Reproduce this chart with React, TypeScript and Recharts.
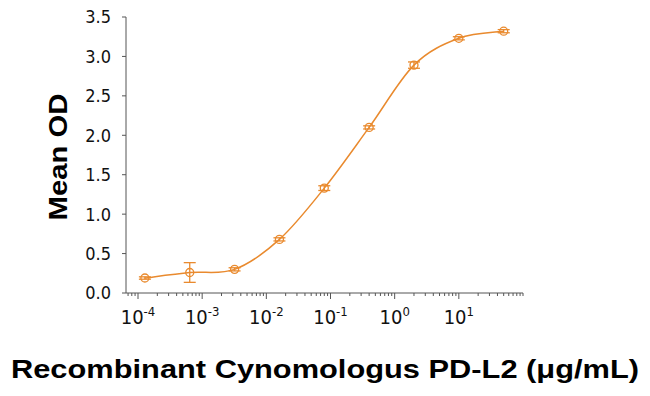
import React from "react"
import { LineChart, Line, XAxis, YAxis, ErrorBar, Label } from "recharts"

document.body.style.margin = "0"

const concentrations = [0.000128, 0.00064, 0.0032, 0.016, 0.08, 0.4, 2, 10, 50]
const meanOD = [0.19, 0.26, 0.3, 0.68, 1.33, 2.1, 2.89, 3.23, 3.32]
const errorOD = [0.015, 0.125, 0.02, 0.02, 0.03, 0.02, 0.04, 0.02, 0.02]

const yTicks = [0, 0.5, 1, 1.5, 2, 2.5, 3, 3.5]
const decades = [-5, -4, -3, -2, -1, 0, 1]
const majorExps = [-4, -3, -2, -1, 0, 1]

const X_MIN = 6.5e-5
const X_MAX = 100
const xTicks = decades
  .flatMap((e) => [1, 2, 3, 4, 5, 6, 7, 8, 9].map((m) => m * Math.pow(10, e)))
  .concat([X_MAX])
  .filter((v) => v >= X_MIN && v <= X_MAX)

const ORANGE = "#e98a2e"
const AXIS = "#555555"
const TICK_FONT = "'Liberation Sans Narrow', 'DejaVu Sans Condensed', sans-serif"
const TITLE_FONT = "'Liberation Sans', Arial, sans-serif"

const data = concentrations.map((c, i) => ({ conc: c, od: meanOD[i], err: errorOD[i] }))

// catmull-rom style curve, smoother than monotone around the flat tail
function smoothCurve(context: any) {
  let pts: number[][] = []
  return {
    areaStart() {},
    areaEnd() {},
    lineStart() {
      pts = []
    },
    lineEnd() {
      if (!pts.length) return
      context.moveTo(pts[0][0], pts[0][1])
      const k = 1 / 6
      for (let i = 0; i < pts.length - 1; i++) {
        const p0 = pts[i - 1] || pts[i]
        const p1 = pts[i]
        const p2 = pts[i + 1]
        const p3 = pts[i + 2] || p2
        context.bezierCurveTo(
          p1[0] + (p2[0] - p0[0]) * k,
          p1[1] + (p2[1] - p0[1]) * k,
          p2[0] - (p3[0] - p1[0]) * k,
          p2[1] - (p3[1] - p1[1]) * k,
          p2[0],
          p2[1]
        )
      }
    },
    point(x: number, y: number) {
      pts.push([+x, +y])
    },
  }
}

function LogTick(props: any) {
  const { x, y, payload } = props
  const v = payload.value
  const exp = Math.round(Math.log10(v))
  const isMajor = Math.abs(v - Math.pow(10, exp)) < 1e-9 * Math.pow(10, exp) && majorExps.includes(exp)
  return (
    <g>
      <line x1={x} x2={x} y1={y} y2={y + (isMajor ? 6 : 3)} stroke={AXIS} strokeWidth={1} />
      {isMajor && (
        <text x={x} y={y + 31} textAnchor="middle" fontFamily={TICK_FONT} fontSize={20} fill="#111">
          <tspan>10</tspan>
          <tspan dy={-8} fontSize={13}>{exp}</tspan>
        </text>
      )}
    </g>
  )
}

function Dot(props: any) {
  const { cx, cy } = props
  if (cx == null || cy == null) return null
  return <circle cx={cx} cy={cy} r={4} fill="none" stroke={ORANGE} strokeWidth={1.3} />
}

const XTitle = () => (
  <text
    x={325}
    y={378}
    textAnchor="middle"
    fontFamily={TITLE_FONT}
    fontWeight="bold"
    fontSize={26}
    fill="#000"
    textLength={628}
    lengthAdjust="spacingAndGlyphs"
  >
    Recombinant Cynomologus PD-L2 (μg/mL)
  </text>
)

const YTitle = () => (
  <text
    x={0}
    y={0}
    transform="translate(67,157) rotate(-90)"
    textAnchor="middle"
    fontFamily={TITLE_FONT}
    fontWeight="bold"
    fontSize={26}
    fill="#000"
    textLength={127}
    lengthAdjust="spacingAndGlyphs"
  >
    Mean OD
  </text>
)

export default function App() {
  return (
    <LineChart width={650} height={396} data={data} margin={{ top: 17, right: 127, bottom: 0, left: 0 }}>
      <XAxis
        dataKey="conc"
        type="number"
        scale="log"
        domain={[X_MIN, X_MAX]}
        allowDataOverflow
        ticks={xTicks}
        interval={0}
        height={103}
        tickLine={false}
        tickSize={0}
        tickMargin={0}
        stroke={AXIS}
        tick={<LogTick />}
      >
        <Label content={<XTitle />} />
      </XAxis>
      <YAxis
        type="number"
        domain={[0, 3.5]}
        ticks={yTicks}
        width={126}
        tickSize={4}
        tickMargin={11}
        stroke={AXIS}
        tickFormatter={(v: number) => v.toFixed(1)}
        tick={{ fill: "#111", fontSize: 18, fontFamily: TICK_FONT }}
      >
        <Label content={<YTitle />} />
      </YAxis>
      <Line
        type={smoothCurve as any}
        dataKey="od"
        stroke={ORANGE}
        strokeWidth={1.5}
        dot={<Dot />}
        activeDot={false}
        isAnimationActive={false}
      >
        <ErrorBar dataKey="err" width={6} stroke={ORANGE} strokeWidth={1.3} direction="y" />
      </Line>
    </LineChart>
  )
}
